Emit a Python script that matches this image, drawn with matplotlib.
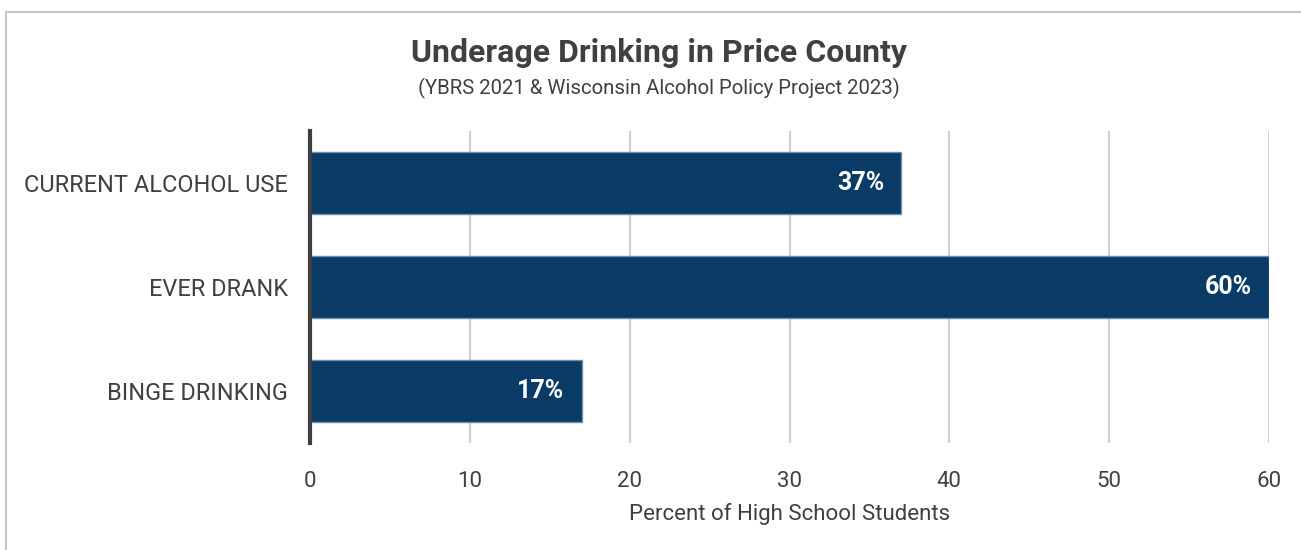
import matplotlib.pyplot as plt
from matplotlib.lines import Line2D

# data
categories = ["CURRENT ALCOHOL USE", "EVER DRANK", "BINGE DRINKING"]
values = [37, 60, 17]
ticks = [0, 10, 20, 30, 40, 50, 60]

plt.rcParams["font.family"] = ["Roboto", "DejaVu Sans"]
txt = "#404040"

fig = plt.figure(figsize=(13.01, 5.5), dpi=100)
ax = fig.add_axes([0.2383, 0.1945, 0.7371, 0.5673])

ypos = list(range(len(categories)))[::-1]
bars = ax.barh(ypos, values, height=0.6, color="#0a3a66", edgecolor="#6f8fae", linewidth=1, zorder=3)
for b, v in zip(bars, values):
    ax.text(v - 1.07, b.get_y() + b.get_height() / 2, f"{v}%", ha="right", va="center",
            color="white", fontsize=18, fontweight="bold", zorder=4)

ax.set_yticks(ypos)
ax.set_yticklabels(categories, fontsize=16.9, color=txt)
ax.set_xticks(ticks)
ax.set_xticklabels([str(t) for t in ticks], fontsize=16, color=txt)
ax.set_xlim(0, 60)
ax.set_ylim(-0.5, 2.5)
ax.tick_params(axis="both", length=0)
ax.tick_params(axis="x", pad=20)
ax.tick_params(axis="y", pad=16)
ax.grid(axis="x", color="#d0d0d0", linewidth=1.5, zorder=0)
for s in ["top", "right", "bottom"]:
    ax.spines[s].set_visible(False)
ax.spines["left"].set_color("#404040")
ax.spines["left"].set_linewidth(3)
ax.spines["left"].set_zorder(5)
ax.set_xlabel("Percent of High School Students", fontsize=16, color=txt, labelpad=8)

fig.text(0.5065, 0.904, "Underage Drinking in Price County", ha="center", va="center",
         fontsize=23, fontweight="bold", color=txt)
fig.text(0.5065, 0.84, "(YBRS 2021 & Wisconsin Alcohol Policy Project 2023)", ha="center",
         va="center", fontsize=14.7, color=txt)

# chart frame (top and left edges)
fig.add_artist(Line2D([0.0046, 1], [0.978, 0.978], color="#c8c8c8", linewidth=1.5, transform=fig.transFigure))
fig.add_artist(Line2D([0.0046, 0.0046], [0, 0.978], color="#c8c8c8", linewidth=1.5, transform=fig.transFigure))

fig.savefig("out.png", dpi=100)
